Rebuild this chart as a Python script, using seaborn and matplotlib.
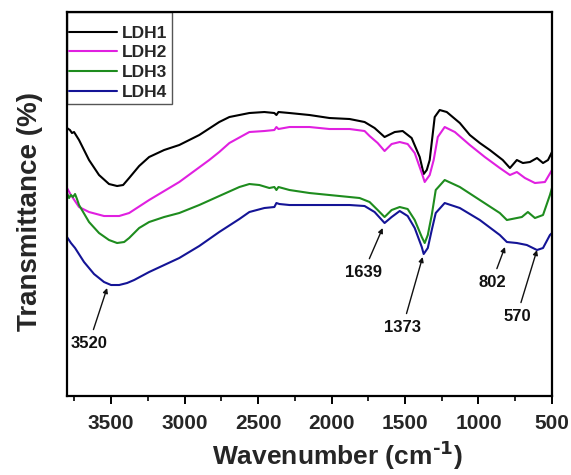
import numpy as np
import pandas as pd
import matplotlib
matplotlib.use("Agg")
import matplotlib.pyplot as plt
from matplotlib.patches import Rectangle
import seaborn as sns

# ---- data (transmittance in arbitrary units, curves offset as in the figure) ----
wn1 = [3800, 3780, 3766, 3752, 3718, 3650, 3582, 3514, 3459, 3418, 3377, 3309, 3241, 3139, 3036,
       2900, 2764, 2695, 2559, 2457, 2389, 2375, 2361, 2286, 2150, 2014, 1877, 1775, 1707, 1639,
       1570, 1516, 1455, 1400, 1373, 1352, 1332, 1298, 1264, 1216, 1127, 1059, 991, 923, 835, 786,
       739, 698, 650, 602, 561, 527, 500]
t1 = [268, 266, 263, 264, 256, 236, 221, 212, 210, 211, 218, 230, 239, 246, 251,
      261, 274, 279, 283, 284, 283, 281, 284, 283, 281, 278, 277, 274, 268, 259,
      264, 265, 258, 239, 222, 226, 236, 279, 286, 284, 273, 261, 253, 246, 236, 228,
      236, 233, 234, 238, 233, 236, 244]

wn2 = [3800, 3773, 3718, 3650, 3548, 3445, 3377, 3241, 3036, 2832, 2764, 2695, 2559, 2457, 2389,
       2375, 2361, 2286, 2150, 2014, 1877, 1775, 1741, 1686, 1639, 1591, 1536, 1482, 1434, 1386,
       1366, 1332, 1305, 1277, 1230, 1161, 1059, 957, 855, 786, 739, 684, 616, 548, 500]
t2 = [208, 201, 189, 184, 180, 180, 183, 196, 214, 236, 244, 253, 264, 265, 266,
      269, 267, 269, 269, 267, 267, 265, 260, 253, 245, 252, 254, 252, 243, 223,
      214, 221, 236, 259, 269, 264, 251, 239, 228, 221, 224, 218, 213, 214, 226]

wn3 = [3800, 3786, 3773, 3759, 3745, 3732, 3718, 3650, 3582, 3514, 3459, 3411, 3377, 3309, 3241,
       3139, 3036, 2900, 2764, 2627, 2559, 2491, 2423, 2389, 2375, 2361, 2286, 2150, 2014, 1877,
       1809, 1741, 1686, 1639, 1591, 1536, 1482, 1434, 1386, 1366, 1345, 1318, 1291, 1230, 1127,
       991, 855, 807, 739, 705, 664, 616, 561, 514, 500]
t3 = [203, 198, 201, 199, 202, 197, 191, 174, 163, 156, 153, 154, 158, 168, 174,
      179, 183, 191, 200, 209, 212, 211, 208, 209, 206, 209, 206, 203, 201, 199,
      198, 194, 186, 179, 186, 189, 187, 176, 159, 153, 161, 181, 206, 216, 209,
      196, 183, 176, 178, 179, 184, 178, 181, 201, 208]

wn4 = [3800, 3773, 3745, 3684, 3616, 3548, 3500, 3445, 3391, 3343, 3241, 3036, 2900, 2764, 2627,
       2559, 2457, 2389, 2375, 2355, 2286, 2150, 2014, 1877, 1775, 1707, 1639, 1591, 1536, 1482,
       1434, 1386, 1373, 1345, 1318, 1291, 1230, 1127, 991, 855, 807, 739, 671, 602, 561, 514, 500]
t4 = [159, 153, 148, 134, 122, 114, 111, 111, 113, 116, 124, 138, 150, 164, 177,
      184, 188, 189, 193, 192, 191, 191, 191, 191, 190, 184, 173, 179, 185, 180,
      168, 149, 142, 148, 166, 183, 193, 188, 176, 161, 154, 153, 151, 146, 148, 161, 163]

labels = ["LDH1", "LDH2", "LDH3", "LDH4"]
colors = ["#000000", "#E020E0", "#1E8C1E", "#141496"]

peak_labels = ["3520", "1639", "1373", "802", "570"]
peak_xy = [(3527, 108), (1652, 168), (1380, 139), (820, 149), (602, 146)]
peak_text = [(3650, 53), (1782, 124), (1516, 69), (909, 114), (739, 80)]

xticks = [3500, 3000, 2500, 2000, 1500, 1000, 500]

# ---- build long-form table ----
frames = []
for lab, w, t in zip(labels, [wn1, wn2, wn3, wn4], [t1, t2, t3, t4]):
    frames.append(pd.DataFrame({"wn": w, "T": t, "sample": lab}))
df = pd.concat(frames, ignore_index=True)

sns.set_theme(style="white")
plt.rcParams["font.family"] = ["Liberation Sans", "DejaVu Sans"]
plt.rcParams["font.weight"] = "bold"
plt.rcParams["mathtext.default"] = "regular"

fig = plt.figure(figsize=(5.71, 4.75), dpi=100)
ax = fig.add_axes([0.1173, 0.1663, 0.8494, 0.8084])

sns.lineplot(data=df, x="wn", y="T", hue="sample", hue_order=labels,
             palette=colors, estimator=None, sort=True, linewidth=1.5, ax=ax)

ax.set_xlim(3800, 500)
ax.set_ylim(0, 384)
ax.set_yticks([])
ax.set_xticks(xticks)
ax.set_xticklabels([str(v) for v in xticks], fontsize=15, fontweight="bold")
ax.set_xticks([3750, 3250, 2750, 2250, 1750, 1250, 750], minor=True)
ax.tick_params(axis="x", which="major", direction="out", length=6, width=1.4,
               color="black", pad=7, bottom=True)
ax.tick_params(axis="x", which="minor", direction="out", length=3.5, width=1.2,
               color="black", bottom=True)

for sp in ax.spines.values():
    sp.set_color("black")
    sp.set_linewidth(1.6)
    sp.set_zorder(5)

ax.set_xlabel("Wavenumber (cm$^{\\text{-1}}$)", fontsize=19, fontweight="bold")
ax.xaxis.set_label_coords(0.557, -0.113)
ax.set_ylabel("Transmittance (%)", fontsize=20, fontweight="bold")
ax.yaxis.set_label_coords(-0.05, 0.48)

for lab, xy, xt in zip(peak_labels, peak_xy, peak_text):
    ax.annotate(lab, xy=xy, xytext=xt, textcoords="data", ha="center", va="center",
                fontsize=12, fontweight="bold", color="#111111",
                arrowprops=dict(arrowstyle="-|>", color="#111111", lw=1.0,
                                mutation_scale=7, shrinkA=2, shrinkB=0))

leg = ax.legend(loc="upper left", bbox_to_anchor=(-0.004, 1 - 10 / 384), frameon=False,
                borderaxespad=0.0, handlelength=2.8, handletextpad=0.3, labelspacing=0.26,
                borderpad=0.2, prop={"size": 12.5, "weight": "bold"})
for line in leg.get_lines():
    line.set_linewidth(1.5)
ax.add_patch(Rectangle((0, 1 - 92 / 384), 105 / 485, 92 / 384, transform=ax.transAxes,
                       fill=False, edgecolor="#555555", linewidth=1.0, zorder=4))

fig.savefig("out.png", dpi=100)
